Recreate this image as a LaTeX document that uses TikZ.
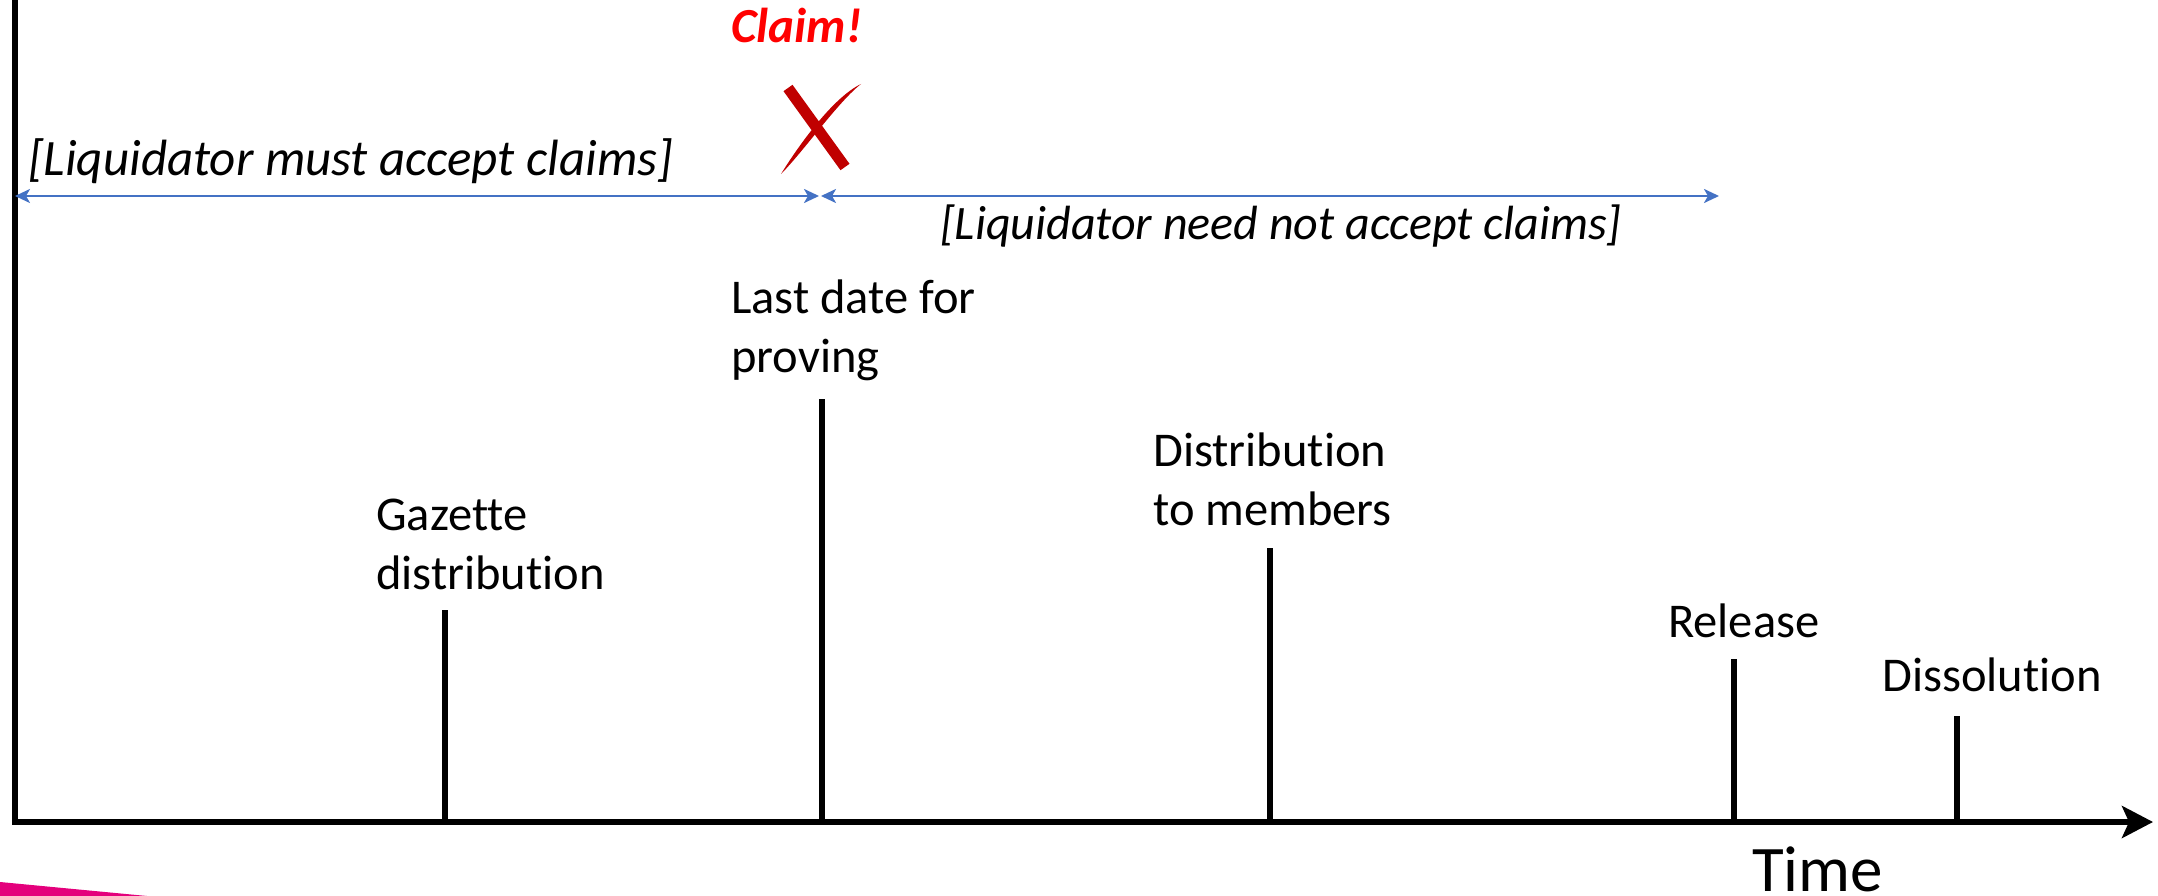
\documentclass[tikz,border=0pt]{standalone}
\usepackage{fontspec}
\setmainfont{Carlito}[Ligatures=NoCommon]
\usetikzlibrary{arrows.meta}
\definecolor{spanblue}{HTML}{4472C4}
\definecolor{claimred}{HTML}{FF0000}
\definecolor{crossred}{HTML}{C00000}
\definecolor{accentpink}{RGB}{228,0,124}

\begin{document}
\begin{tikzpicture}[x=1pt,y=-1pt,
  axisline/.style={line width=5.5pt, line join=miter},
  tickline/.style={line width=5.5pt},
  lbl/.style={anchor=base west, inner sep=0pt, font=\fontsize{48.5}{59}\selectfont},
  note/.style={anchor=base west, inner sep=0pt, font=\itshape},
  spantip/.tip={Stealth[length=15pt,width=14pt,inset=4pt]},
  spanarrow/.style={draw=spanblue, line width=2.5pt, spantip-spantip},
]
\useasboundingbox (0,0) rectangle (2158,896);

% corner accent
\fill[accentpink] (0,882) -- (147,896) -- (0,896) -- cycle;

% axes
\coordinate (ytop) at (15,0);
\coordinate (origin) at (15,822);
\coordinate (xend) at (2153,822);
\draw[axisline, -{Stealth[length=31pt,width=32pt,inset=7pt]}] (ytop) -- (origin) -- (xend);

% event ticks
\coordinate (gazette) at (445,610);
\coordinate (lastdate) at (822,399);
\coordinate (members) at (1270,548);
\coordinate (release) at (1734,659);
\coordinate (dissolve) at (1957,716);
\foreach \t in {gazette,lastdate,members,release,dissolve}
  \draw[tickline] (\t) -- (\t |- origin);

% event labels
\node[lbl] (lgazette) at (376,530) {\begin{tabular}[t]{@{}l@{}}Gazette\\distribution\end{tabular}};
\node[lbl] (llastdate) at (731,313) {\begin{tabular}[t]{@{}l@{}}Last date for\\proving\end{tabular}};
\node[lbl] (lmembers) at (1153,466) {\begin{tabular}[t]{@{}l@{}}Distribution\\to members\end{tabular}};
\node[lbl] (lrelease) at (1668,637) {Release};
\node[lbl] (ldissolve) at (1882,691) {Dissolution};
\node[anchor=base west, inner sep=0pt, font=\fontsize{65}{78}\selectfont] (ltime) at (1752,891) {Time};

% claim periods
\coordinate (spanleft) at (origin |- 0,196);
\coordinate (cutA) at (819,196);
\coordinate (cutB) at (821,196);
\coordinate (spanright) at (1719,196);
\draw[spanarrow] (spanleft) -- (cutA);
\draw[spanarrow] (cutB) -- (spanright);
\node[note, font=\fontsize{51}{61}\selectfont\itshape] (must) at (28,176) {[Liquidator must accept claims]};
\node[note, font=\fontsize{48}{58}\selectfont\itshape] (neednot) at (940,240) {[Liquidator need not accept claims]};

% rejected late claim
\node[anchor=base west, inner sep=0pt, text=claimred,
      font=\fontsize{49}{58}\selectfont\bfseries\itshape] (claim) at (731,43) {Claim!};
\fill[crossred] (783.5,91.2) -- (792.5,84.8) -- (849.5,163.8) -- (840.5,170.2) -- cycle;
\fill[crossred] (781,174) .. controls (803,152) and (838,102) .. (861,84)
                .. controls (832,98) and (797,148) .. (781,174) -- cycle;
\end{tikzpicture}
\end{document}
